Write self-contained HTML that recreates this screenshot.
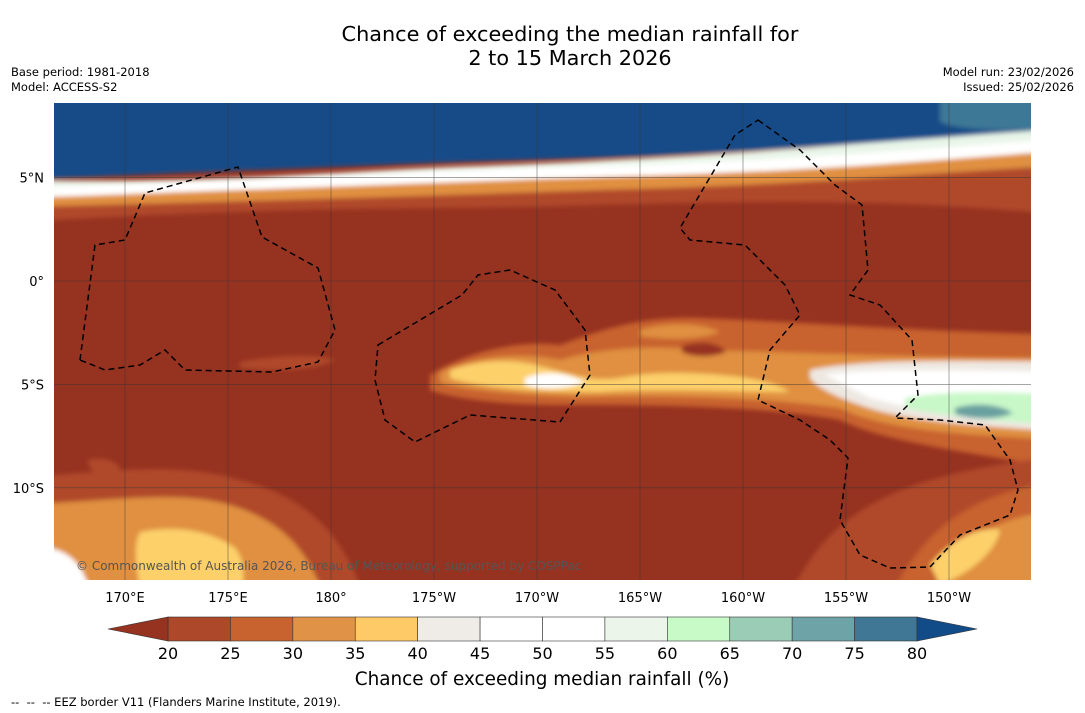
<!DOCTYPE html>
<html><head><meta charset="utf-8"><style>
body{margin:0;width:1085px;height:713px;background:#fff;overflow:hidden;font-family:"DejaVu Sans","Liberation Sans",sans-serif;position:relative}
.t{position:absolute;white-space:nowrap}
</style></head><body>
<div class="t" style="left:0;width:1140px;top:22px;text-align:center;font-size:20.8px;line-height:24px;color:#000">Chance of exceeding the median rainfall for<br>2 to 15 March 2026</div>
<div class="t" style="left:11px;top:65px;font-size:11.5px;line-height:15px">Base period: 1981-2018<br>Model: ACCESS-S2</div>
<div class="t" style="right:11px;top:65px;font-size:11.5px;line-height:15px;text-align:right">Model run: 23/02/2026<br>Issued: 25/02/2026</div>
<svg id="s" width="1085" height="713" style="position:absolute;left:0;top:0">
<defs><clipPath id="mc"><rect x="54" y="103" width="977" height="477"/></clipPath>
<filter id="bl" x="-10%" y="-10%" width="120%" height="120%"><feGaussianBlur stdDeviation="2.5"/></filter></defs>
<g clip-path="url(#mc)">
<rect x="54" y="103" width="977" height="477" fill="#963220"/>
<g filter="url(#bl)">
<path d="M20,180 C200,185 330,172 450,168 C600,163 800,153 1070,125 L1070,215 C900,200 800,200 600,205 C450,210 300,205 20,222 Z" fill="#b04a2a"/>
<path d="M20,188 C200,192 330,180 450,175 C600,170 800,160 1070,132 L1070,165 C900,175 800,185 600,190 C450,195 300,200 20,207 Z" fill="#e09040"/>
<path d="M20,182 C200,186 330,174 450,170 C600,165 800,155 1070,127 L1070,150 C900,163 800,172 600,177 C450,182 300,188 20,198 Z" fill="#fff"/>
<path d="M20,180 C200,184 330,172 450,167 C600,162 800,152 1070,124 L1070,138 C900,150 800,160 600,166 C450,170 300,178 20,188 Z" fill="#e8f5e8"/>
<path d="M20,60 L1070,60 L1070,128 C900,140 800,150 600,158 C450,162 300,168 20,180 Z" fill="#144c88"/>
<path d="M940,60 L1070,60 L1070,127 C1000,132 960,130 940,122 Z" fill="#3e7896"/>
<path d="M430,375 C470,350 520,340 560,345 C600,330 640,316 700,318 C800,322 900,330 1070,335 L1070,470 C950,450 880,440 840,420 C760,405 640,405 560,405 C500,405 450,398 430,390 Z" fill="#c8622e"/>
<path d="M440,372 C480,355 520,352 560,360 C600,348 650,345 700,350 C800,352 900,358 1070,358 L1070,440 C950,435 880,428 840,408 C760,396 640,395 580,397 C520,395 460,390 440,382 Z" fill="#e09040"/>
<path d="M450,370 C480,360 510,358 540,366 C570,374 590,382 620,378 C650,372 680,372 720,375 C760,378 780,385 790,392 C740,392 660,388 600,392 C540,392 480,388 450,378 Z" fill="#fdd06a"/>
<path d="M525,378 C545,370 565,372 585,382 C565,390 540,390 525,385 Z" fill="#fff"/>
<path d="M810,370 C860,360 930,360 1070,362 L1070,432 C960,425 900,420 860,405 C830,395 815,385 810,378 Z" fill="#eee8e2"/>
<path d="M825,375 C870,368 940,370 1070,372 L1070,422 C970,418 910,410 870,398 Z" fill="#fff"/>
<path d="M905,398 C950,390 1000,392 1070,395 L1070,425 C990,422 940,415 905,408 Z" fill="#c8f8c8"/>
<path d="M955,408 C975,402 1000,404 1013,413 C995,421 968,419 955,414 Z" fill="#6aa0a0"/>
<path d="M640,330 C665,322 700,322 720,332 C700,340 665,340 640,336 Z" fill="#e09040"/>
<path d="M682,346 C700,340 718,342 726,352 C710,358 692,357 682,352 Z" fill="#963220"/>
<path d="M240,362 C280,354 320,354 335,360 C315,370 280,372 240,368 Z" fill="#b04a2a"/>
<path d="M88,460 C108,455 124,465 120,476 C100,478 88,472 88,460 Z" fill="#b04a2a"/>
<path d="M20,478 C120,470 180,462 240,480 C300,495 350,530 370,620 L20,620 Z" fill="#b04a2a"/>
<path d="M20,505 C120,500 180,490 230,505 C280,520 315,550 330,620 L20,620 Z" fill="#e09040"/>
<path d="M140,532 C175,525 210,530 235,548 C245,560 245,575 240,620 L150,620 C140,595 130,550 140,532 Z" fill="#fdd06a"/>
<path d="M20,545 C70,545 88,560 95,620 L20,620 Z" fill="#fff"/>
<path d="M780,620 C820,510 890,475 1070,455 L1070,620 Z" fill="#b04a2a"/>
<path d="M880,620 C920,520 980,490 1070,480 L1070,620 Z" fill="#c8622e"/>
<path d="M930,620 C950,540 990,515 1070,510 L1070,620 Z" fill="#e09040"/>
<path d="M930,565 C950,540 980,525 1000,530 C995,555 965,575 940,585 Z" fill="#fdd06a"/>
</g>
<g id="grid" stroke="#333" stroke-width="0.6" opacity="0.7"></g>
<g fill="none" stroke="#000" stroke-width="1.5" stroke-dasharray="6,4">
<path d="M80,360 L95,245 L125,240 L145,193 L238,167 L262,237 L318,268 L335,330 L318,362 L272,372 L185,370 L165,350 L140,365 L105,370 Z"/>
<path d="M378,345 L462,295 L478,275 L510,270 L555,290 L585,330 L590,375 L560,422 L470,415 L415,442 L385,420 L375,380 Z"/>
<path d="M758,120 L800,150 L835,185 L862,205 L868,270 L850,295 L880,305 L912,340 L918,395 L895,418 L940,420 L985,425 L1010,460 L1018,490 L1010,515 L960,535 L930,567 L890,568 L860,555 L840,520 L848,458 L830,440 L800,420 L758,400 L770,350 L800,315 L785,285 L745,245 L690,240 L680,228 L735,135 Z"/>
</g>
</g>
<text x="76" y="570" font-size="12" fill="#555">© Commonwealth of Australia 2026, Bureau of Meteorology, supported by COSPPac</text>
<g id="xt" font-size="13" text-anchor="middle"></g>
<g id="yt" font-size="13" text-anchor="end"></g>
<g id="cb"></g>
<text x="542" y="685" font-size="18.4" text-anchor="middle">Chance of exceeding median rainfall (%)</text>
<text x="11" y="706" font-size="11.5">-- &#160;-- &#160;-- EEZ border V11 (Flanders Marine Institute, 2019).</text>
</svg>
<script>
const lonLabels=["170°E","175°E","180°","175°W","170°W","165°W","160°W","155°W","150°W"];
const lonValues=[170,175,180,185,190,195,200,205,210];
const latLabels=["5°N","0°","5°S","10°S"];
const latValues=[5,0,-5,-10];
const cbLevels=[20,25,30,35,40,45,50,55,60,65,70,75,80];
const cbColors=["#ae482a","#c8632f","#e09346","#feca68","#efebe7","#ffffff","#ffffff","#ebf5ea","#c8fac8","#9bcdb6","#6ea3a7","#3f7794"];
const lowColor="#963220", highColor="#124c88";
const NS="http://www.w3.org/2000/svg";
const xs=lon=>125+(lon-170)*20.6;
const ys=lat=>281-lat*20.68;
const grid=document.getElementById('grid'),xt=document.getElementById('xt'),yt=document.getElementById('yt'),cb=document.getElementById('cb');
function mk(t,a,p){const e=document.createElementNS(NS,t);for(const k in a)e.setAttribute(k,a[k]);p.appendChild(e);return e;}
lonValues.forEach((v,i)=>{
 const l=mk('line',{x1:xs(v),x2:xs(v),y1:103,y2:580},grid);
 
 
 const t=mk('text',{x:xs(v),y:602},xt);t.textContent=lonLabels[i];
 
 
});
latValues.forEach((v,i)=>{
 const l=mk('line',{x1:54,x2:1031,y1:ys(v),y2:ys(v)},grid);
 
 
 const t=mk('text',{x:44,y:ys(v)+5},yt);t.textContent=latLabels[i];
 
 
});
const cx=v=>168+(v-20)*(917-168)/60;
for(let i=0;i<cbColors.length;i++){
 const r=mk('rect',{x:cx(cbLevels[i]),y:617,width:cx(cbLevels[i+1])-cx(cbLevels[i]),height:24,fill:cbColors[i],stroke:'#333','stroke-width':0.6},cb);
 
 
}
const lo=mk('polygon',{points:`108,629 ${cx(20)},617 ${cx(20)},641`,fill:lowColor,stroke:'#333','stroke-width':0.6},cb);


const hi=mk('polygon',{points:`977,629 ${cx(80)},617 ${cx(80)},641`,fill:highColor,stroke:'#333','stroke-width':0.6},cb);


cbLevels.forEach(v=>{
 const t=mk('text',{x:cx(v),y:659,'font-size':16,'text-anchor':'middle'},cb);t.textContent=v;
 
 
});
</script>
</body></html>
